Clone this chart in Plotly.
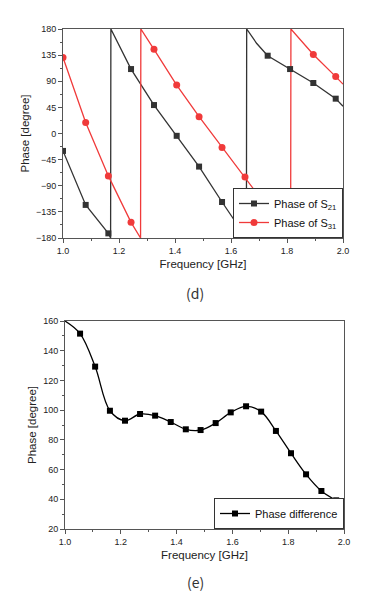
import plotly.graph_objects as go

# ---- (d) phase of S21 / S31 ----
s21_freq = [1.0, 1.081, 1.162, 1.170, 1.171, 1.243, 1.325, 1.406, 1.486, 1.568, 1.648, 1.655, 1.656, 1.692, 1.731, 1.811, 1.894, 1.974, 2.0]
s21_phase = [-30, -123, -172, -180, 180, 111, 49, -4, -57, -118, -177, -180, 180, 155, 134, 111, 87, 60, 47]
s21_mark_freq = [1.0, 1.081, 1.162, 1.243, 1.325, 1.406, 1.486, 1.568, 1.648, 1.731, 1.811, 1.894, 1.974]
s21_mark_phase = [-30, -123, -172, 111, 49, -4, -57, -118, -177, 134, 111, 87, 60]

s31_freq = [1.0, 1.081, 1.162, 1.243, 1.277, 1.278, 1.325, 1.406, 1.486, 1.568, 1.650, 1.731, 1.811, 1.813, 1.814, 1.894, 1.974, 2.0]
s31_phase = [131, 19, -73, -153, -180, 180, 145, 83.5, 29, -24, -75, -128, -178, -180, 180, 136, 98, 85]
s31_mark_freq = [1.0, 1.081, 1.162, 1.243, 1.325, 1.406, 1.486, 1.568, 1.650, 1.731, 1.811, 1.894, 1.974]
s31_mark_phase = [131, 19, -73, -153, 145, 83.5, 29, -24, -75, -128, -178, 136, 98]

# ---- (e) phase difference ----
diff_freq = [1.0, 1.054, 1.108, 1.161, 1.215, 1.269, 1.323, 1.379, 1.433, 1.486, 1.540, 1.594, 1.649, 1.703, 1.756, 1.810, 1.864, 1.919, 1.972, 2.0]
diff_phase = [160, 151.5, 129.3, 99.6, 92.9, 97.4, 96.3, 92, 87.1, 86.6, 91.3, 98.5, 102.6, 99, 86, 71, 56.8, 45.6, 39.3, 36.8]

x_ticks = [1.0, 1.2, 1.4, 1.6, 1.8, 2.0]
top_y_ticks = [-180, -135, -90, -45, 0, 45, 90, 135, 180]
bot_y_ticks = [20, 40, 60, 80, 100, 120, 140, 160]

BLACK = "#333333"
RED = "#f03a3a"
FONT = "Liberation Sans, Arial, sans-serif"

fig = go.Figure()

# top subplot
fig.add_trace(go.Scatter(x=s21_freq, y=s21_phase, mode="lines", line=dict(color=BLACK, width=1.3),
                         showlegend=False, xaxis="x", yaxis="y", hoverinfo="skip"))
fig.add_trace(go.Scatter(x=s31_freq, y=s31_phase, mode="lines", line=dict(color=RED, width=1.3),
                         showlegend=False, xaxis="x", yaxis="y", hoverinfo="skip"))
fig.add_trace(go.Scatter(x=s21_mark_freq, y=s21_mark_phase, mode="markers",
                         marker=dict(symbol="square", size=6, color=BLACK),
                         showlegend=False, xaxis="x", yaxis="y"))
fig.add_trace(go.Scatter(x=s31_mark_freq, y=s31_mark_phase, mode="markers",
                         marker=dict(symbol="circle", size=7, color=RED),
                         showlegend=False, xaxis="x", yaxis="y"))
fig.add_trace(go.Scatter(x=[None], y=[None], mode="lines+markers", name="Phase of S<sub>21</sub>",
                         line=dict(color=BLACK, width=1.3), marker=dict(symbol="square", size=6, color=BLACK),
                         legend="legend", xaxis="x", yaxis="y"))
fig.add_trace(go.Scatter(x=[None], y=[None], mode="lines+markers", name="Phase of S<sub>31</sub>",
                         line=dict(color=RED, width=1.3), marker=dict(symbol="circle", size=7, color=RED),
                         legend="legend", xaxis="x", yaxis="y"))

# bottom subplot
fig.add_trace(go.Scatter(x=diff_freq, y=diff_phase, mode="lines", line=dict(color="#000000", width=1.3, shape="spline", smoothing=1),
                         showlegend=False, xaxis="x2", yaxis="y2", hoverinfo="skip"))
fig.add_trace(go.Scatter(x=diff_freq[1:-1], y=diff_phase[1:-1], mode="markers",
                         marker=dict(symbol="square", size=6, color="#000000"),
                         showlegend=False, xaxis="x2", yaxis="y2"))
fig.add_trace(go.Scatter(x=[None], y=[None], mode="lines+markers", name="Phase difference",
                         line=dict(color="#000000", width=1.3), marker=dict(symbol="square", size=6, color="#000000"),
                         legend="legend2", xaxis="x2", yaxis="y2"))

W, H = 387, 598
OX, OY = 8, 8  # page body margin


def px(x):
    return (x - OX) / W


def py(y):
    return 1 - (y - OY) / H


axis_common = dict(showline=True, linecolor="#555555", linewidth=1, mirror=True, ticks="outside",
                   ticklen=4, tickcolor="#555555", showgrid=False, zeroline=False,
                   tickfont=dict(family=FONT, size=9, color="#222222"), automargin=False)

fig.update_layout(
    width=W, height=H,
    margin=dict(l=0, r=0, t=0, b=0),
    paper_bgcolor="white", plot_bgcolor="white",
    font=dict(family=FONT, color="#222222"),
    xaxis=dict(domain=[px(63), px(343)], range=[1, 2], anchor="y", tickvals=x_ticks, tickformat=".1f",
               minor=dict(ticks="outside", ticklen=2, dtick=0.1, tickcolor="#555555"),
               title=dict(text="Frequency [GHz]", font=dict(family=FONT, size=11.5), standoff=5),
               **axis_common),
    yaxis=dict(domain=[py(238), py(29)], range=[-180, 180], anchor="x", tickvals=top_y_ticks,
               minor=dict(ticks="outside", ticklen=2, dtick=22.5, tickcolor="#555555"),
               title=dict(text="Phase [degree]", font=dict(family=FONT, size=11.5), standoff=3),
               **axis_common),
    xaxis2=dict(domain=[px(65), px(344)], range=[1, 2], anchor="y2", tickvals=x_ticks, tickformat=".1f",
                minor=dict(ticks="outside", ticklen=2, dtick=0.1, tickcolor="#555555"),
                title=dict(text="Frequency [GHz]", font=dict(family=FONT, size=11.5), standoff=5),
                **axis_common),
    yaxis2=dict(domain=[py(529), py(321)], range=[20, 160], anchor="x2", tickvals=bot_y_ticks,
                minor=dict(ticks="outside", ticklen=2, dtick=10, tickcolor="#555555"),
                title=dict(text="Phase [degree]", font=dict(family=FONT, size=11.5), standoff=4),
                **axis_common),
    legend=dict(x=px(343), y=py(238), xanchor="right", yanchor="bottom", bgcolor="white",
                bordercolor="#333333", borderwidth=1, font=dict(family=FONT, size=11, color="#111111"),
                itemwidth=30, tracegroupgap=0),
    legend2=dict(x=px(344), y=py(529), xanchor="right", yanchor="bottom", bgcolor="white",
                 bordercolor="#333333", borderwidth=1, font=dict(family=FONT, size=11, color="#111111"),
                 itemwidth=30),
    annotations=[
        dict(text="(d)", x=px(195), y=py(293), xref="paper", yref="paper", showarrow=False,
             xanchor="center", yanchor="middle",
             font=dict(family="Noto Sans CJK SC", size=14, color="#333333")),
        dict(text="(e)", x=px(195), y=py(582), xref="paper", yref="paper", showarrow=False,
             xanchor="center", yanchor="middle",
             font=dict(family="Noto Sans CJK SC", size=14, color="#333333")),
    ],
)

fig.write_html("out.html")
